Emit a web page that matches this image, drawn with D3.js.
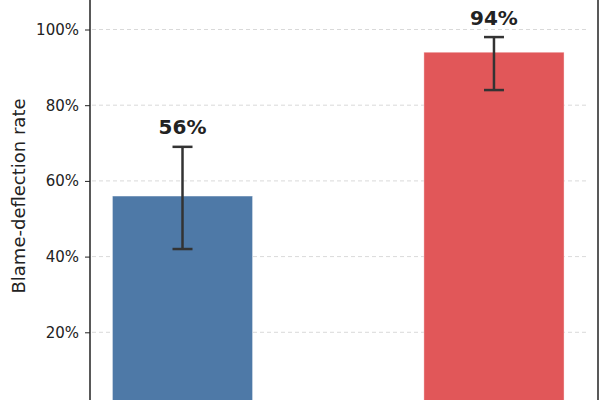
<!DOCTYPE html>
<html>
<head>
<meta charset="utf-8">
<script src="https://cdn.jsdelivr.net/npm/d3@7"></script>
<style>
  body { margin: 0; background: #fff; }
  text { font-family: "DejaVu Sans", sans-serif; }
</style>
</head>
<body>
<svg id="chart" width="600" height="400"></svg>
<script>
// data
const categories = ["Condition A", "Condition B"];
const rates = [0.56, 0.94];
const errLow = [0.42, 0.84];
const errHigh = [0.69, 0.98];
const barColors = ["#4e79a7", "#e15759"];
const yTicks = [0.2, 0.4, 0.6, 0.8, 1.0];

const svg = d3.select("#chart");

// plot area (bottom of the axes falls below the window)
const left = 90, right = 598;

const x = d3.scaleLinear()
    .domain([-0.297, 1.334])
    .range([left, right]);

const y = d3.scaleLinear()
    .domain([0, 1])
    .range([408, 29.5]);

const barW = 0.45;

// gridlines
svg.append("g")
   .selectAll("line")
   .data(yTicks)
   .enter()
   .append("line")
   .attr("x1", left + 2)
   .attr("x2", 587)
   .attr("y1", d => y(d))
   .attr("y2", d => y(d))
   .style("stroke", "#cfcfcf")
   .style("stroke-width", 0.8)
   .style("stroke-dasharray", "4,3");

// bars
svg.append("g")
   .selectAll("rect")
   .data(rates)
   .enter()
   .append("rect")
   .attr("x", (d, i) => x(i - barW / 2))
   .attr("width", x(barW) - x(0))
   .attr("y", d => y(d))
   .attr("height", d => y(0) - y(d))
   .style("fill", (d, i) => barColors[i])
   .style("stroke", "#ffffff")
   .style("stroke-opacity", 0.5)
   .style("stroke-width", 0.8);

// error bars
const eb = svg.append("g").style("stroke", "#333333").style("stroke-width", 2.5);
rates.forEach((r, i) => {
  const cx = x(i);
  eb.append("line").attr("x1", cx).attr("x2", cx).attr("y1", y(errLow[i])).attr("y2", y(errHigh[i]));
  eb.append("line").attr("x1", cx - 10).attr("x2", cx + 10).attr("y1", y(errLow[i])).attr("y2", y(errLow[i]));
  eb.append("line").attr("x1", cx - 10).attr("x2", cx + 10).attr("y1", y(errHigh[i])).attr("y2", y(errHigh[i]));
});

// value labels
svg.append("g")
   .selectAll("text")
   .data(rates)
   .enter()
   .append("text")
   .attr("x", (d, i) => x(i))
   .attr("y", (d, i) => y(errHigh[i]) - 12.5)
   .style("text-anchor", "middle")
   .style("font-size", "20px")
   .style("font-weight", "bold")
   .style("fill", "#222")
   .text(d => d3.format(".0%")(d));

// y axis
const yAxis = d3.axisLeft(y)
    .tickValues(yTicks)
    .tickFormat(d3.format(".0%"))
    .tickSize(5)
    .tickPadding(6);

const gy = svg.append("g")
   .attr("transform", `translate(${left},0)`)
   .call(yAxis);
gy.select(".domain").remove();
gy.selectAll("text").style("font-size", "15px").style("fill", "#222");
gy.selectAll("line").style("stroke", "#222").style("stroke-width", 1);

// spines
svg.append("line").attr("x1", left).attr("x2", left).attr("y1", 0).attr("y2", 400)
   .style("stroke", "#222").style("stroke-width", 1.5);
svg.append("line").attr("x1", right).attr("x2", right).attr("y1", 0).attr("y2", 400)
   .style("stroke", "#222").style("stroke-width", 1.5);

// y label
svg.append("text")
   .attr("transform", "rotate(-90)")
   .attr("x", -196)
   .attr("y", 25)
   .style("text-anchor", "middle")
   .style("font-size", "18px")
   .style("fill", "#222")
   .text("Blame-deflection rate");
</script>
</body>
</html>
